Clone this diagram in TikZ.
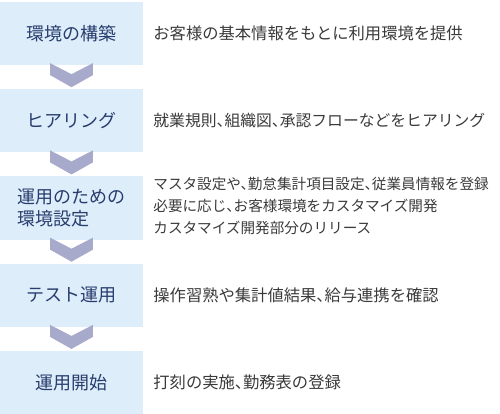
\documentclass[tikz,border=0pt]{standalone}
\usepackage{fontspec}
\setmainfont{Noto Sans CJK JP}
\newfontfamily\jpdesc[RawFeature=+halt]{Noto Sans CJK JP}
\usetikzlibrary{positioning}
\definecolor{boxblue}{RGB}{221,238,250}
\definecolor{chevgray}{RGB}{168,170,204}
\definecolor{stepnavy}{RGB}{40,60,110}
\definecolor{desctext}{RGB}{58,58,58}
\tikzstyle{step_box} = [
rectangle, minimum width=143pt, minimum height=63pt, inner sep=0pt,
text centered, fill=boxblue, text=stepnavy, font=\fontsize{18}{22}\selectfont
]
\tikzstyle{desc} = [
anchor=west, inner sep=0pt, align=left, text=desctext,
font=\jpdesc\fontsize{16.3}{22}\selectfont
]
\tikzstyle{desc_S} = [
desc, font=\jpdesc\fontsize{14.6}{22}\selectfont
]
\tikzstyle{chevron} = [fill=chevgray]

\begin{document}
\begin{tikzpicture}[node distance=87.25pt]
			\useasboundingbox (0,0) rectangle (500pt,-414pt);
			% Etapas
			\node (S_1) [step_box] at (71.5pt,-33.5pt) {環境の構築};
			\node (S_2) [step_box, below of=S_1] {ヒアリング};
			\node (S_3) [step_box, below of=S_2, align=left] {運用のための\\環境設定};
			\node (S_4) [step_box, below of=S_3] {テスト運用};
			\node (S_5) [step_box, below of=S_4] {運用開始};

			% Descricoes
			\node (D_1) [desc, right=10pt of S_1] {お客様の基本情報をもとに利用環境を提供};
			\node (D_2) [desc, right=10pt of S_2, font=\jpdesc\fontsize{15.8}{22}\selectfont] {就業規則、組織図、承認フローなどをヒアリング};
			\node (D_3) [desc_S, right=10pt of S_3, yshift=2pt] {マスタ設定や、勤怠集計項目設定、従業員情報を登録\\必要に応じ、お客様環境をカスタマイズ開発\\カスタマイズ開発部分のリリース};
			\node (D_4) [desc, right=10pt of S_4] {操作習熟や集計値結果、給与連携を確認};
			\node (D_5) [desc, right=10pt of S_5] {打刻の実施、勤務表の登録};

			% Setas
			\foreach \s in {S_1,S_2,S_3,S_4}
				\fill[chevron] (\s.south) ++(-21.3pt,2pt) -- ++(21.3pt,-11pt) -- ++(21.3pt,11pt)
					-- ++(0,-12pt) -- ++(-21.3pt,-12pt) -- ++(-21.3pt,12pt) -- cycle;

		\end{tikzpicture}
\end{document}
